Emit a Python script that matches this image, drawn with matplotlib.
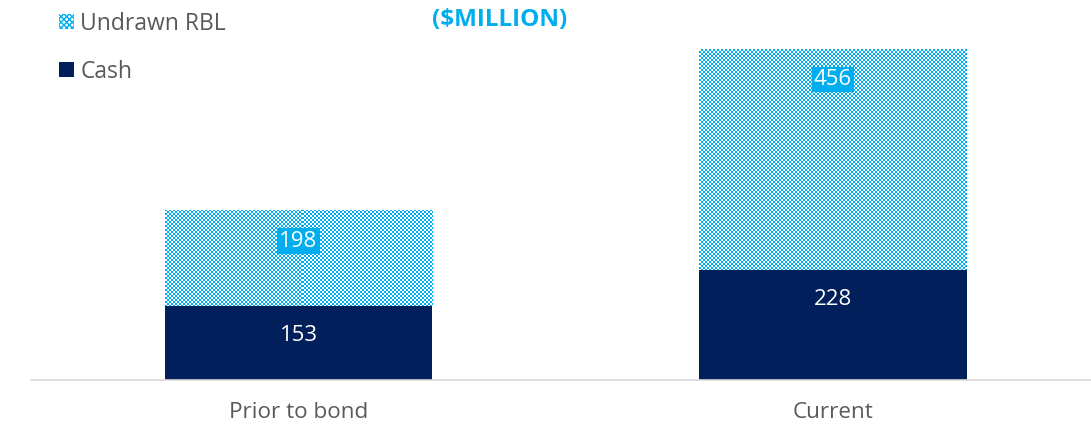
import numpy as np
import matplotlib
matplotlib.use("Agg")
import matplotlib.pyplot as plt
from matplotlib.patches import Patch

# data
categories = ["Prior to bond", "Current"]
cash = [153, 228]
undrawn_rbl = [198, 456]
series_names = ["Undrawn RBL", "Cash"]

NAVY = "#001F5B"
CYAN = "#00AEEF"
GREY = "#595959"

plt.rcParams['font.family'] = ['Open Sans', 'DejaVu Sans']

W, H, DPI = 1091, 424, 100
fig = plt.figure(figsize=(W / DPI, H / DPI), dpi=DPI)
ax = fig.add_axes([31 / W, 44 / H, 1060 / W, 339 / H])

x = np.arange(len(categories))
bw = 0.5
cash_bars = ax.bar(x, cash, bw, color=NAVY, zorder=2)
rbl_bars = ax.bar(x, undrawn_rbl, bw, bottom=cash, facecolor="white",
                  edgecolor="none", zorder=2)

ax.set_xlim(-0.5005, 1.4827)
ax.set_ylim(0, 700)

# checker texture for the undrawn RBL segments
axw, axh = 1060, 339
yy, xx = np.mgrid[0:axh, 0:axw]
checker = ((xx // 2 + yy // 2) % 2).astype(float)
cmap = matplotlib.colors.ListedColormap(["white", CYAN])
for p in rbl_bars.patches:
    im = ax.imshow(checker, cmap=cmap, interpolation="nearest", aspect="auto",
                   extent=(*ax.get_xlim(), *ax.get_ylim()), zorder=3)
    im.set_clip_path(p)

# value labels, near the top of each segment
for xi, c, u in zip(x, cash, undrawn_rbl):
    ax.annotate(str(c), (xi, c), xytext=(0, -30), textcoords="offset pixels",
                ha="center", va="center", color="white", fontsize=16, zorder=5)
    ax.annotate(str(u), (xi, c + u), xytext=(0, -31), textcoords="offset pixels",
                ha="center", va="center", color="white", fontsize=16, zorder=5,
                bbox=dict(boxstyle="square,pad=0.1", fc=CYAN, ec="none"))

for s in ["top", "left", "right"]:
    ax.spines[s].set_visible(False)
ax.spines["bottom"].set_color("#D9D9D9")
ax.spines["bottom"].set_linewidth(1.2)
ax.set_yticks([])
ax.set_xticks(x)
ax.set_xticklabels(categories, fontsize=16.2, color=GREY)
ax.tick_params(axis="x", length=0, pad=16)

fig.text(500 / W, 1 - 20 / H, "($MILLION)", ha="center", va="center",
         color=CYAN, fontsize=17.5, fontweight="bold")

handles = [Patch(facecolor="white", edgecolor=CYAN, hatch="xxxxxx", lw=0),
           Patch(facecolor=NAVY)]
fig.legend(handles, series_names, loc="upper left",
           bbox_to_anchor=(38 / W, 1 + 9 / H), frameon=False,
           fontsize=16.5, labelcolor=GREY, handlelength=0.65,
           handleheight=0.65, handletextpad=0.3, labelspacing=1.05)

fig.savefig("out.png", dpi=DPI)
